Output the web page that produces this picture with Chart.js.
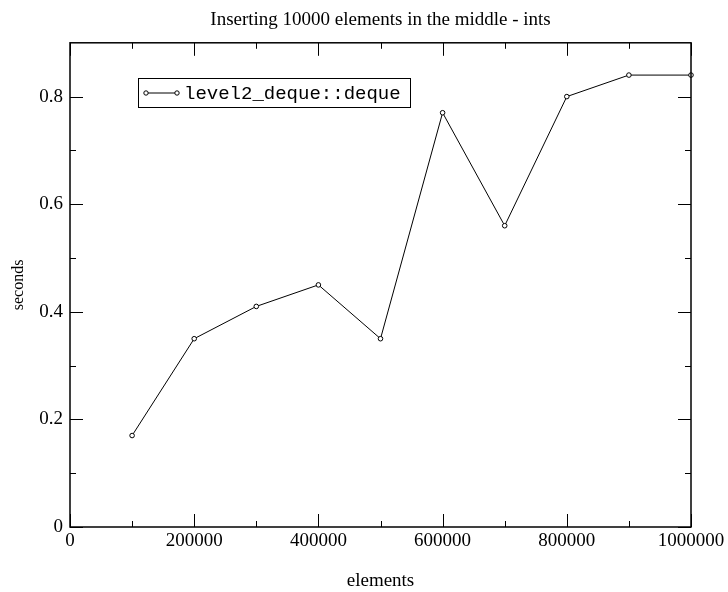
<!DOCTYPE html>
<html lang="en">
<head>
    <meta charset="UTF-8">
    <title>Inserting 10000 elements in the middle - ints</title>
    <script src="https://cdn.jsdelivr.net/npm/chart.js@4.4.0/dist/chart.umd.min.js"></script>
    <style>
        html, body {
            margin: 0;
            padding: 0;
            background: #fff;
        }
        .wrap {
            width: 728px;
            height: 592px;
        }
    </style>
</head>
<body>
    <div class="wrap">
        <canvas id="chart" width="728" height="592"></canvas>
    </div>

    <script>
        // data
        const elements = [100000, 200000, 300000, 400000, 500000, 600000, 700000, 800000, 900000, 1000000];
        const seconds = [0.17, 0.35, 0.41, 0.45, 0.35, 0.77, 0.56, 0.80, 0.84, 0.84];
        const seriesName = 'level2_deque::deque';

        const xMajorTicks = [0, 200000, 400000, 600000, 800000, 1000000];
        const xMinorTicks = [100000, 300000, 500000, 700000, 900000];
        const yMajorTicks = [0, 0.2, 0.4, 0.6, 0.8];
        const yMinorTicks = [0.1, 0.3, 0.5, 0.7];

        const serif = "'Liberation Serif', 'DejaVu Serif', serif";
        const mono = "'Liberation Mono', 'DejaVu Sans Mono', monospace";

        // frame, inward ticks on all four sides, and the boxed legend
        const framePlugin = {
            id: 'frame',
            afterDatasetsDraw(chart) {
                const ctx = chart.ctx;
                const a = chart.chartArea;
                const xs = chart.scales.x, ys = chart.scales.y;
                ctx.save();
                ctx.strokeStyle = '#000';
                ctx.lineWidth = 1;

                function tickX(v, len) {
                    const px = Math.round(xs.getPixelForValue(v)) + 0.5;
                    ctx.beginPath();
                    ctx.moveTo(px, a.bottom); ctx.lineTo(px, a.bottom - len);
                    ctx.moveTo(px, a.top); ctx.lineTo(px, a.top + len);
                    ctx.stroke();
                }
                function tickY(v, len) {
                    const py = Math.round(ys.getPixelForValue(v)) + 0.5;
                    ctx.beginPath();
                    ctx.moveTo(a.left, py); ctx.lineTo(a.left + len, py);
                    ctx.moveTo(a.right, py); ctx.lineTo(a.right - len, py);
                    ctx.stroke();
                }
                xMajorTicks.forEach(v => tickX(v, 13));
                xMinorTicks.forEach(v => tickX(v, 6));
                yMajorTicks.forEach(v => tickY(v, 13));
                yMinorTicks.forEach(v => tickY(v, 6));

                ctx.lineWidth = 1.5;
                ctx.strokeRect(a.left, a.top, a.right - a.left, a.bottom - a.top);

                // legend
                const lx = 138.5, ly = 78.5, lw = 272, lh = 29;
                ctx.lineWidth = 1;
                ctx.fillStyle = '#fff';
                ctx.fillRect(lx, ly, lw, lh);
                ctx.strokeRect(lx, ly, lw, lh);
                const cy = ly + lh / 2;
                ctx.beginPath();
                ctx.moveTo(146, cy); ctx.lineTo(177, cy);
                ctx.stroke();
                [146, 177].forEach(cx => {
                    ctx.beginPath();
                    ctx.arc(cx, cy, 2.2, 0, Math.PI * 2);
                    ctx.fillStyle = '#fff';
                    ctx.fill();
                    ctx.stroke();
                });
                ctx.fillStyle = '#000';
                ctx.font = '19px ' + mono;
                ctx.textBaseline = 'middle';
                ctx.textAlign = 'left';
                ctx.fillText(chart.data.datasets[0].label, 184, cy + 1);
                ctx.restore();
            }
        };

        const ctx = document.getElementById('chart').getContext('2d');
        const chart = new Chart(ctx, {
            type: 'line',
            data: {
                datasets: [{
                    label: seriesName,
                    data: elements.map((x, i) => ({ x: x, y: seconds[i] })),
                    borderColor: '#000',
                    borderWidth: 1,
                    pointRadius: 2.3,
                    pointBackgroundColor: '#fff',
                    pointBorderColor: '#000',
                    pointBorderWidth: 1,
                    tension: 0,
                    clip: false
                }]
            },
            options: {
                responsive: false,
                animation: false,
                devicePixelRatio: 1,
                layout: {
                    padding: { left: 0, right: 37, top: 0, bottom: 0 }
                },
                plugins: {
                    legend: { display: false },
                    tooltip: { enabled: false },
                    title: {
                        display: true,
                        fullSize: false,
                        text: 'Inserting 10000 elements in the middle - ints',
                        color: '#000',
                        font: { family: serif, size: 19, weight: 'normal' },
                        padding: { top: 9, bottom: 11 }
                    }
                },
                scales: {
                    x: {
                        type: 'linear',
                        min: 0,
                        max: 1000000,
                        afterBuildTicks: s => { s.ticks = xMajorTicks.map(v => ({ value: v })); },
                        afterFit: s => { s.height = 65; },
                        grid: { display: false, drawTicks: false },
                        border: { display: false },
                        ticks: {
                            color: '#000',
                            font: { family: serif, size: 19 },
                            padding: 3,
                            maxRotation: 0,
                            callback: v => String(v)
                        },
                        title: {
                            display: true,
                            text: 'elements',
                            color: '#000',
                            font: { family: serif, size: 19 },
                            padding: { top: 0, bottom: 0 }
                        }
                    },
                    y: {
                        type: 'linear',
                        min: 0,
                        max: 0.9,
                        afterBuildTicks: s => { s.ticks = yMajorTicks.map(v => ({ value: v })); },
                        afterFit: s => { s.width = 70; },
                        grid: { display: false, drawTicks: false },
                        border: { display: false },
                        ticks: {
                            color: '#000',
                            font: { family: serif, size: 19 },
                            padding: 7,
                            callback: v => String(Math.round(v * 10) / 10)
                        },
                        title: {
                            display: true,
                            text: 'seconds',
                            color: '#000',
                            font: { family: serif, size: 16 },
                            padding: { top: 9, bottom: 0 }
                        }
                    }
                }
            },
            plugins: [framePlugin]
        });
    </script>
</body>
</html>
